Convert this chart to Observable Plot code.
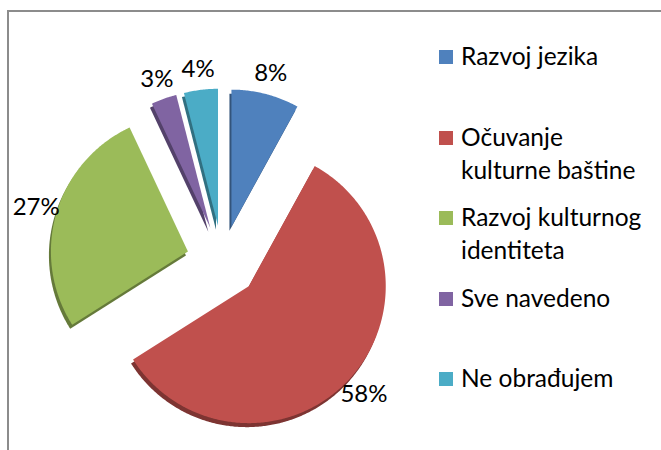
<!DOCTYPE html>
<html><head><meta charset="utf-8">
<script src="https://cdn.jsdelivr.net/npm/d3@7"></script>
<script src="https://cdn.jsdelivr.net/npm/@observablehq/plot@0.6"></script>
<style>
html,body{margin:0;padding:0;background:#fff;}
#wrap{position:relative;width:661px;height:450px;overflow:hidden;font-family:Lato,"Open Sans",sans-serif;}
#frame{position:absolute;left:7px;top:10px;width:700px;height:500px;border-left:2px solid #8c8c8c;border-top:2px solid #8c8c8c;}
#chart{position:absolute;left:0;top:0;}
#legend{position:absolute;left:439px;top:40px;}
.row{height:80.5px;position:relative;}
.sw{position:absolute;left:0;top:10px;width:14px;height:14px;}
.lab{position:absolute;left:22px;top:-1px;font-size:24.5px;line-height:33px;white-space:pre;color:#000;}
</style></head>
<body><div id="wrap"><div id="frame"></div><div id="chart"></div><div id="legend"></div></div>
<script>
const categories = ["Razvoj jezika", "Očuvanje kulturne baštine", "Razvoj kulturnog identiteta", "Sve navedeno", "Ne obrađujem"];
const legendLines = ["Razvoj jezika", "Očuvanje\nkulturne baštine", "Razvoj kulturnog\nidentiteta", "Sve navedeno", "Ne obrađujem"];
const values = [8, 58, 27, 3, 4];
const colors = ["#4F81BD", "#C0504D", "#9BBB59", "#8064A2", "#4BACC6"];

const cx = 222, cy = 261, R = 137, EX = 36, LR = 194;
const pie = d3.pie().sort(null).value(d => d)(values);
const polys = [], depth = [], labs = [];
pie.forEach((p, i) => {
  const mid = (p.startAngle + p.endAngle) / 2;
  const ox = cx + EX * Math.sin(mid), oy = cy - EX * Math.cos(mid);
  const pts = [[ox, oy]];
  const n = Math.max(2, Math.ceil((p.endAngle - p.startAngle) / 0.01));
  for (let k = 0; k <= n; k++) {
    const a = p.startAngle + (p.endAngle - p.startAngle) * k / n;
    pts.push([ox + R * Math.sin(a), oy - R * Math.cos(a)]);
  }
  const dark = d3.color(colors[i]).darker(1.2).formatHex();
  pts.forEach(([x, y]) => {
    polys.push({x, y, cat: categories[i], c: colors[i]});
    depth.push({x: x - 2, y: y + 4, cat: categories[i], c: dark});
  });
  labs.push({x: cx + LR * Math.sin(mid), y: cy - LR * Math.cos(mid), t: values[i] + "%"});
});

const chart = Plot.plot({
  width: 661, height: 450, margin: 0,
  style: {background: "transparent"},
  x: {domain: [0, 661], range: [0, 661], axis: null},
  y: {domain: [0, 450], range: [0, 450], axis: null},
  color: {type: "identity"},
  marks: [
    Plot.line(depth, {x: "x", y: "y", z: "cat", fill: "c", stroke: "none", curve: "linear-closed"}),
    Plot.line(polys, {x: "x", y: "y", z: "cat", fill: "c", stroke: "none", curve: "linear-closed"}),
    Plot.text(labs, {x: "x", y: "y", text: "t", fontSize: 24, fontFamily: "Lato, 'Open Sans', sans-serif", fill: "#000"})
  ]
});
document.getElementById("chart").appendChild(chart);

const leg = document.getElementById("legend");
legendLines.forEach((t, i) => {
  const row = document.createElement("div"); row.className = "row";
  const sw = document.createElement("div"); sw.className = "sw"; sw.style.background = colors[i];
  const lab = document.createElement("div"); lab.className = "lab"; lab.textContent = t;
  row.appendChild(sw); row.appendChild(lab); leg.appendChild(row);
});
</script>
</body></html>
